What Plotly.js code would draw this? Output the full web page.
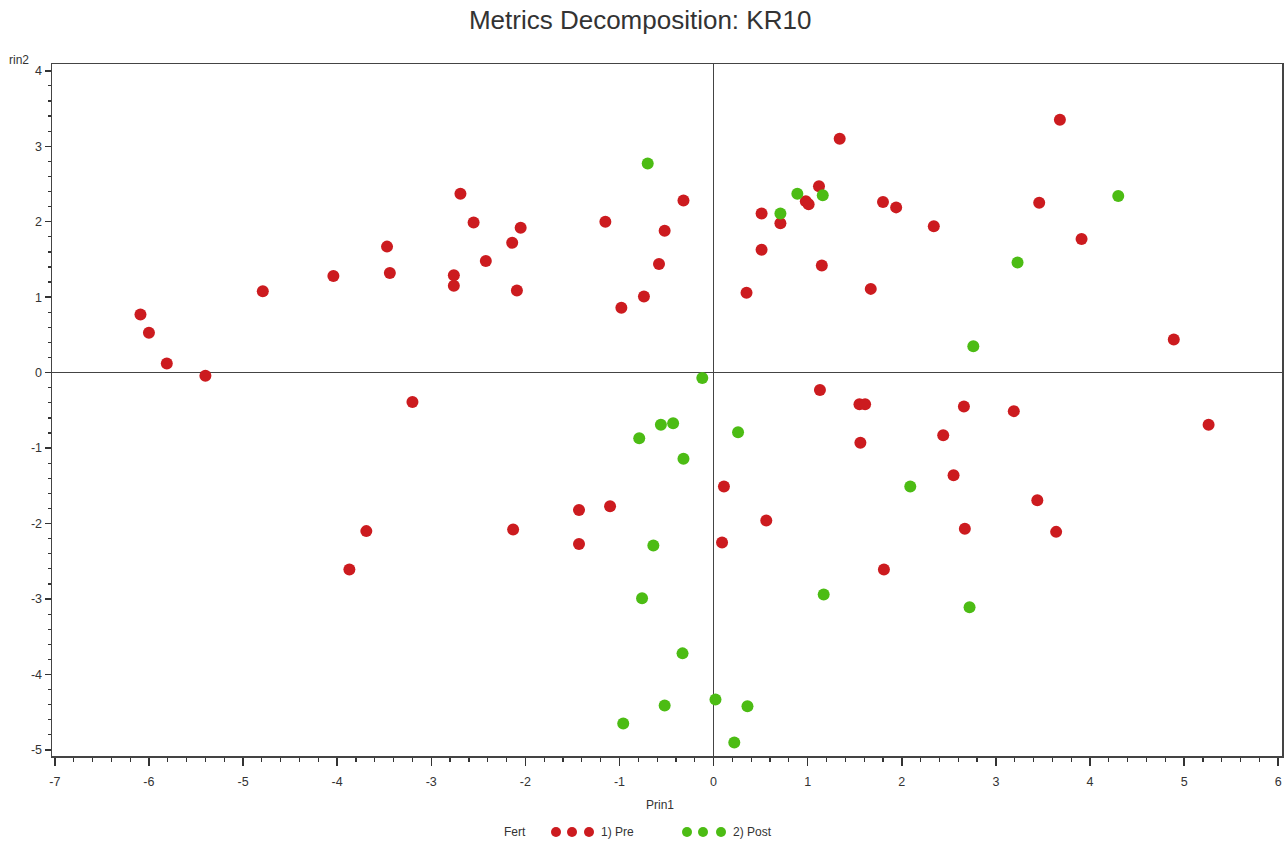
<!DOCTYPE html>
<html>
<head>
<meta charset="utf-8">
<script src="https://cdn.plot.ly/plotly-3.0.1.min.js"></script>
<style>html,body{margin:0;padding:0;background:#fff;}#chart{width:1288px;height:843px;}</style>
</head>
<body>
<div id="chart"></div>
<script>
// Group "1) Pre"
const preX = [-6.09,-6.00,-5.81,-5.40,-4.79,-4.04,-3.47,-3.44,-3.20,-2.69,-2.76,-2.76,-2.55,-2.42,-2.14,-2.05,-2.09,
  -3.69,-3.87,-2.13,-1.43,-1.43,-1.10,0.11,0.09,
  -0.32,-1.15,-0.52,-0.58,-0.74,-0.98,
  1.34,1.12,0.98,1.01,0.51,0.71,0.51,1.15,0.35,1.80,1.94,2.34,1.67,3.68,3.46,3.91,4.89,5.26,
  1.13,1.55,1.61,2.66,3.19,2.44,1.56,2.55,3.44,0.56,2.67,3.64,1.81];
const preY = [0.77,0.53,0.12,-0.04,1.08,1.28,1.67,1.32,-0.39,2.37,1.29,1.15,1.99,1.48,1.72,1.92,1.09,
  -2.10,-2.61,-2.08,-1.82,-2.27,-1.77,-1.51,-2.25,
  2.28,2.00,1.88,1.44,1.01,0.86,
  3.10,2.47,2.27,2.23,2.11,1.98,1.63,1.42,1.06,2.26,2.19,1.94,1.11,3.35,2.25,1.77,0.44,-0.69,
  -0.23,-0.42,-0.42,-0.45,-0.51,-0.83,-0.93,-1.36,-1.69,-1.96,-2.07,-2.11,-2.61];
// Group "2) Post"
const postX = [-0.70,0.89,1.16,0.71,2.76,4.30,3.23,-0.12,-0.56,-0.43,-0.79,0.26,-0.32,-0.64,-0.76,-0.33,0.02,-0.52,-0.96,0.22,0.36,2.09,1.17,2.72];
const postY = [2.77,2.37,2.35,2.11,0.35,2.34,1.46,-0.07,-0.69,-0.67,-0.87,-0.79,-1.14,-2.29,-2.99,-3.72,-4.33,-4.41,-4.65,-4.90,-4.42,-1.51,-2.94,-3.11];
const groupNames = ["1) Pre", "2) Post"];
const legendTitle = "Fert";
const xTicks = [-7,-6,-5,-4,-3,-2,-1,0,1,2,3,4,5,6];
const yTicks = [-5,-4,-3,-2,-1,0,1,2,3,4];

const RED = "#CC1B1F", GREEN = "#4CBC14";
const FONT = "Liberation Sans, Arial, sans-serif";

const traces = [
  {x: preX, y: preY, name: groupNames[0], type: "scatter", mode: "markers",
   marker: {color: RED, size: 12, line: {width: 0}}, showlegend: false, cliponaxis: false},
  {x: postX, y: postY, name: groupNames[1], type: "scatter", mode: "markers",
   marker: {color: GREEN, size: 12, line: {width: 0}}, showlegend: false, cliponaxis: false}
];

// legend built from paper-positioned shapes/annotations
const W = 1230, H = 692; // plot area size in px (for paper conversion)
function px2x(p){ return (p - 52) / W; }
function px2y(p){ return (756 - p) / H; }
const legY = px2y(832);
const shapes = [];
const dotPx = [[556, RED],[572, RED],[589, RED],[687, GREEN],[703, GREEN],[721, GREEN]];
dotPx.forEach(d => shapes.push({type: "circle", xref: "paper", yref: "paper", xsizemode: "pixel", ysizemode: "pixel",
  xanchor: px2x(d[0]), yanchor: legY, x0: -5, x1: 5, y0: -5, y1: 5, fillcolor: d[1], line: {width: 0}}));

const annotations = [
  {text: legendTitle, xref: "paper", yref: "paper", x: px2x(515), y: legY, xanchor: "center", yanchor: "middle", showarrow: false, font: {family: FONT, size: 12, color: "#333"}},
  {text: groupNames[0], xref: "paper", yref: "paper", x: px2x(599), y: legY, xanchor: "left", yanchor: "middle", showarrow: false, font: {family: FONT, size: 12, color: "#333"}},
  {text: groupNames[1], xref: "paper", yref: "paper", x: px2x(731), y: legY, xanchor: "left", yanchor: "middle", showarrow: false, font: {family: FONT, size: 12, color: "#333"}},
  {text: "rin2", xref: "paper", yref: "paper", x: px2x(31), y: px2y(60), xanchor: "right", yanchor: "middle", showarrow: false, font: {family: FONT, size: 12, color: "#333"}},
  {text: "Prin1", xref: "paper", yref: "paper", x: px2x(660), y: px2y(805), xanchor: "center", yanchor: "middle", showarrow: false, font: {family: FONT, size: 12, color: "#333"}}
];

const layout = {
  width: 1288, height: 843,
  paper_bgcolor: "#fff", plot_bgcolor: "#fff",
  margin: {l: 52, r: 6, t: 64, b: 87},
  title: {text: "Metrics Decomposition: KR10", x: 0.497, xanchor: "center", y: 0.976, yanchor: "middle",
          font: {family: FONT, size: 26, color: "#333"}},
  font: {family: FONT, size: 12, color: "#333"},
  xaxis: {range: [-7.03, 6.04], tickvals: xTicks, ticktext: xTicks.map(String), ticks: "outside", ticklen: 8, tickwidth: 1.5, tickcolor: "#333",
          minor: {dtick: 0.2, ticks: "outside", ticklen: 4, tickwidth: 1.2, tickcolor: "#333"},
          ticklabelstandoff: 5,
          showgrid: false, zeroline: true, zerolinecolor: "#444", zerolinewidth: 1.5,
          showline: true, linecolor: "#444", linewidth: 1.5, mirror: true,
          tickfont: {family: FONT, size: 12.5, color: "#333"}, fixedrange: true},
  yaxis: {range: [-5.08, 4.09], tickvals: yTicks, ticktext: yTicks.map(String), ticks: "outside", ticklen: 6, tickwidth: 1.5, tickcolor: "#333",
          minor: {dtick: 0.2, ticks: "outside", ticklen: 3, tickwidth: 1.2, tickcolor: "#333"},
          showgrid: false, zeroline: true, zerolinecolor: "#444", zerolinewidth: 1.5,
          showline: true, linecolor: "#444", linewidth: 1.5, mirror: true,
          tickfont: {family: FONT, size: 12.5, color: "#333"}, fixedrange: true},
  shapes: shapes,
  annotations: annotations,
  showlegend: false
};

Plotly.newPlot("chart", traces, layout, {displayModeBar: false, staticPlot: true});
</script>
</body>
</html>
